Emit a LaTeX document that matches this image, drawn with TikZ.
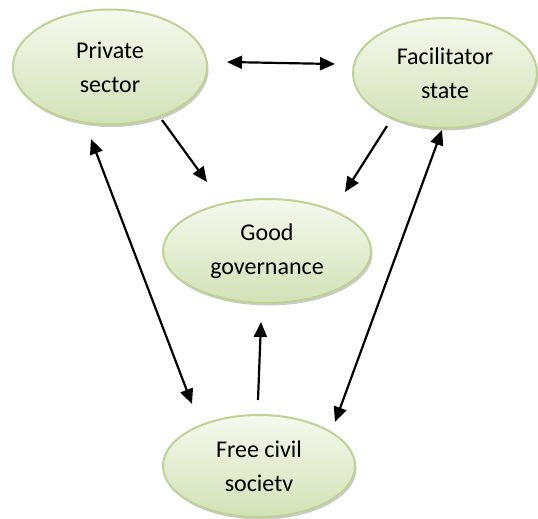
\documentclass[tikz,border=0pt]{standalone}
\usepackage{fontspec}
\setmainfont{Carlito}
\usetikzlibrary{shapes.geometric,arrows.meta,shadows}
\definecolor{edgegreen}{HTML}{BDD293}
\definecolor{topgreen}{HTML}{F5F9EE}
\definecolor{botgreen}{HTML}{D3E1B6}
\tikzset{
  oval/.style={ellipse, draw=edgegreen, line width=2pt, inner sep=0pt,
    top color=topgreen, bottom color=botgreen, align=center,
    font=\fontsize{24}{34}\selectfont,
    drop shadow={shadow xshift=1.5pt, shadow yshift=-2.5pt, fill=black!35, opacity=0.6}},
  link/.style={line width=2.2pt, -{Triangle[length=15pt,width=13pt]}},
  dlink/.style={line width=2.2pt, {Triangle[length=15pt,width=13pt]}-{Triangle[length=15pt,width=13pt]}}
}
\begin{document}
\begin{tikzpicture}[x=1pt,y=-1pt]
\useasboundingbox (0,0) rectangle (538,519);
\node[oval, minimum width=194pt, minimum height=115pt] (ps) at (110,67) {Private\\sector};
\node[oval, minimum width=184pt, minimum height=110pt] (fs) at (445,73) {Facilitator\\state};
\node[oval, minimum width=208pt, minimum height=104pt] (gg) at (267,251) {Good\\governance};
\node[oval, minimum width=192pt, minimum height=102pt] (fc) at (259,466) {Free civil\\societv};
% connector end points
\coordinate (a1) at (227,62);
\coordinate (a2) at (335,64);
\coordinate (b1) at (162,120);
\coordinate (b2) at (207,182);
\coordinate (c1) at (387,126);
\coordinate (c2) at (345,192);
\coordinate (d1) at (91,139);
\coordinate (d2) at (192,404);
\coordinate (e1) at (258,400);
\coordinate (e2) at (261,322);
\coordinate (f1) at (442,130);
\coordinate (f2) at (335,422);
\draw[dlink] (a1) -- (a2);
\draw[link] (b1) -- (b2);
\draw[link] (c1) -- (c2);
\draw[dlink] (d1) -- (d2);
\draw[link] (e1) -- (e2);
\draw[dlink] (f1) -- (f2);
\end{tikzpicture}
\end{document}
